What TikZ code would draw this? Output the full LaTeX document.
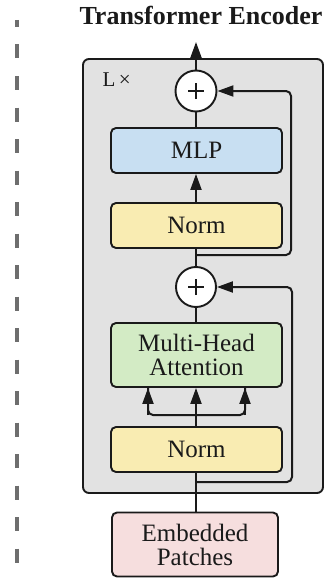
\documentclass[tikz,border=0pt]{standalone}
\usepackage{fontspec}
\setmainfont{Liberation Serif}
\usetikzlibrary{arrows.meta}
\definecolor{encgray}{HTML}{E2E2E2}
\definecolor{mlpblue}{HTML}{C8DFF2}
\definecolor{normyellow}{HTML}{F9ECB2}
\definecolor{attngreen}{HTML}{D3EBC5}
\definecolor{embedpink}{HTML}{F6DEDE}
\definecolor{inkdark}{HTML}{1A1A1A}
\definecolor{markgray}{HTML}{6E6E6E}
\tikzset{
  blockbox/.style={draw=inkdark, line width=1.9pt, rounded corners=5pt,
    minimum width=171pt, minimum height=45pt, align=center, inner sep=0pt,
    text=inkdark, font=\fontsize{25}{27}\selectfont},
  sumnode/.style={circle, draw=inkdark, fill=white, line width=1.9pt,
    minimum size=41pt, inner sep=0pt},
  conn/.style={draw=inkdark, line width=2pt},
  flow/.style={conn, -{Triangle[length=16pt,width=11pt]}},
  skip/.style={conn, rounded corners=5pt, -{Triangle[length=16pt,width=11pt]}}
}
\begin{document}
\begin{tikzpicture}[x=1pt,y=-1pt]
\useasboundingbox (0,0) rectangle (330,578);

% side marker
\draw[markgray, line width=3.4pt, dash pattern=on 14pt off 17.5pt, dash phase=7pt]
  (17,20) -- (17,567);

% title
\node[font=\bfseries\fontsize{26}{28}\selectfont, text=inkdark, anchor=base]
  (title) at (201,25) {Transformer Encoder};

% encoder block
\node[draw=inkdark, fill=encgray, line width=1.9pt, rounded corners=6pt,
  minimum width=240pt, minimum height=434pt, inner sep=0pt]
  (encoder) at (203,276) {};
\node[anchor=base west, text=inkdark, font=\fontsize{21}{23}\selectfont]
  (reps) at (99,86) {L\,×};

% sub-layers
\node[blockbox, fill=mlpblue] (mlp) at (196.5,150.5) {MLP};
\node[blockbox, fill=normyellow] (norm2) at (196.5,225.5) {Norm};
\node[blockbox, fill=attngreen, minimum height=64pt] (mha) at (196.5,355)
  {Multi-Head\\[-3pt]Attention};
\node[blockbox, fill=normyellow] (norm1) at (196.5,449.5) {Norm};
\node[blockbox, fill=embedpink, minimum width=166pt, minimum height=64pt]
  (embed) at (195,544.5) {Embedded\\[-3pt]Patches};

% residual sums
\node[sumnode] (sum2) at (196,91) {};
\node[sumnode, minimum size=40pt] (sum1) at (196,287) {};
\foreach \s in {sum1,sum2}{
  \draw[conn, line width=1.7pt] ([xshift=-8pt]\s.center) -- ([xshift=8pt]\s.center);
  \draw[conn, line width=1.7pt] ([yshift=-8pt]\s.center) -- ([yshift=8pt]\s.center);
}

% branch points
\coordinate (out) at (196,42);
\coordinate (res2) at (196,255);
\coordinate (res1) at (196,482);
\coordinate (fork) at (196,415);

% main path
\draw[conn] (embed.north -| res1) -- (norm1.south -| res1);
\draw[conn] (norm1.north -| fork) -- (fork);
\draw[flow] (fork) -- (mha.south -| fork);
\draw[conn, rounded corners=5pt] (fork) -| ([xshift=-48pt]mha.south -| fork);
\draw[conn, rounded corners=5pt] (fork) -| ([xshift=49pt]mha.south -| fork);
\draw[flow] ([xshift=-48pt]fork) -- ([xshift=-48pt]mha.south -| fork);
\draw[flow] ([xshift=49pt]fork) -- ([xshift=49pt]mha.south -| fork);
\draw[conn] (mha.north -| sum1) -- (sum1.south);
\draw[conn] (sum1.north) -- (norm2.south -| sum1);
\draw[flow] (norm2.north -| sum1) -- (mlp.south -| sum1);
\draw[conn] (mlp.north -| sum2) -- (sum2.south);
\draw[flow] (sum2.north) -- (out);

% skip connections
\draw[skip] (res1) -- ++(96,0) |- (sum1.east);
\draw[skip] (res2) -- ++(95,0) |- (sum2.east);
\end{tikzpicture}
\end{document}
